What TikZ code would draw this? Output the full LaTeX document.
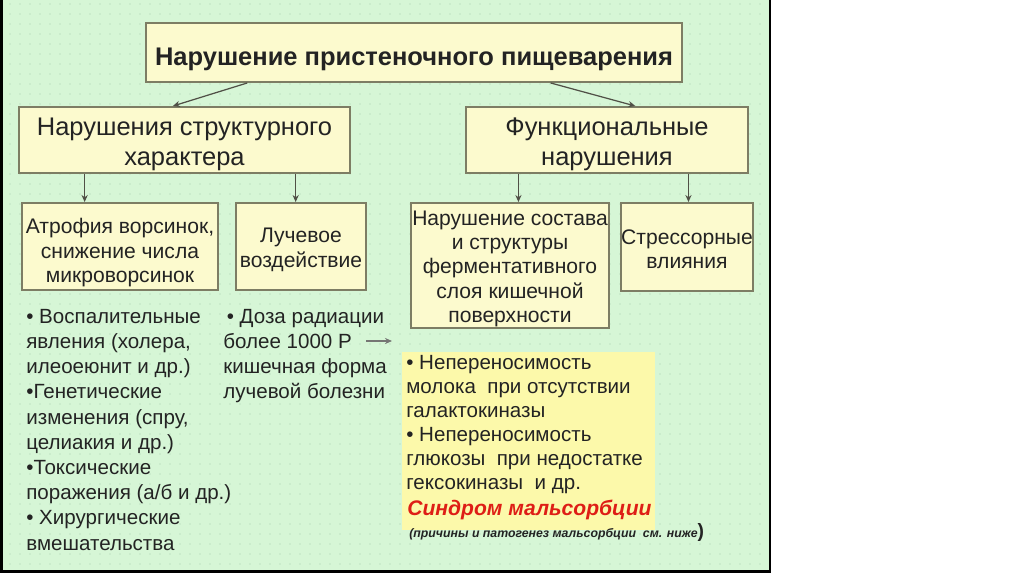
\documentclass[tikz,border=0pt]{standalone}
\usepackage{fontspec}
\setmainfont{Liberation Sans}
\usetikzlibrary{arrows.meta,calc}
\definecolor{panel}{RGB}{214,246,214}
\definecolor{dotc}{RGB}{190,226,194}
\definecolor{boxfill}{RGB}{252,250,206}
\definecolor{boxline}{RGB}{125,125,100}
\definecolor{hilite}{RGB}{252,249,170}
\definecolor{ink}{RGB}{35,35,35}
\definecolor{redtxt}{RGB}{222,30,22}
\definecolor{arrowc}{RGB}{80,80,70}
\newcommand{\toppad}[1]{\rule{0pt}{#1}}
\begin{document}
\begin{tikzpicture}[x=0.02cm,y=-0.02cm,
  box/.style={draw=boxline, line width=1.1pt, fill=boxfill, inner sep=0pt, align=center, text=ink},
  conn/.style={draw=arrowc, line width=0.7pt, -{Stealth[length=4pt,width=3.5pt]}},
  titlefont/.style={font=\fontsize{14.5}{17}\selectfont\bfseries},
  midfont/.style={font=\fontsize{14.5}{17.1}\selectfont},
  lowfont/.style={font=\fontsize{12}{13.9}\selectfont},
  listtext/.style={align=left, inner sep=0pt, text=ink, font=\fontsize{11.7}{14.34}\selectfont},
  yellowtext/.style={align=left, inner sep=0pt, text=ink, font=\fontsize{11.7}{13.66}\selectfont}]
\useasboundingbox (0,0) rectangle (1024,574);
\fill[white] (0,0) rectangle (1024,574);
% panel
\fill[panel] (3,0) rectangle (770,570);
\foreach \i in {0,...,75} {
  \foreach \j in {0,...,56} {
    \fill[dotc] (10+10*\i,4+10*\j) circle (0.55pt);
  }
}
\draw[black, line width=1.5pt] (1.3,0) -- (1.3,571.5) -- (770,571.5) -- (770,0);
% boxes
\node[box, titlefont, minimum width=10.72cm, minimum height=1.18cm] (top) at (414,52.5) {\toppad{17.4pt}Нарушение пристеночного пищеварения};
\node[box, midfont, minimum width=6.62cm, minimum height=1.32cm] (lm) at (184.5,140) {\toppad{15.2pt}Нарушения структурного\\характера};
\node[box, midfont, minimum width=5.64cm, minimum height=1.32cm] (rm) at (607,140) {\toppad{15.2pt}Функциональные\\нарушения};
\node[box, lowfont, minimum width=3.92cm, minimum height=1.74cm] (l3a) at (120,246.5) {\toppad{15.6pt}Атрофия ворсинок,\\снижение числа\\микроворсинок};
\node[box, lowfont, minimum width=2.6cm, minimum height=1.74cm] (l3b) at (301,246.5) {\toppad{12pt}Лучевое\\воздействие};
\node[box, lowfont, minimum width=3.96cm, minimum height=2.5cm] (l3c) at (510,265.5) {\toppad{12pt}Нарушение состава\\и структуры\\ферментативного\\слоя кишечной\\поверхности};
\node[box, lowfont, minimum width=2.64cm, minimum height=1.76cm] (l3d) at (687,247) {\toppad{11pt}Стрессорные\\влияния};
% connectors
\draw[conn] ($(top.south west)!0.19!(top.south east)$) -- ($(lm.north west)!0.465!(lm.north east)$);
\draw[conn] ($(top.south west)!0.754!(top.south east)$) -- ($(rm.north west)!0.6!(rm.north east)$);
\draw[conn] ($(lm.south west)!0.2!(lm.south east)$) coordinate (a1) -- (a1 |- l3a.north);
\draw[conn] ($(lm.south west)!0.834!(lm.south east)$) coordinate (a2) -- (a2 |- l3b.north);
\draw[conn] ($(rm.south west)!0.188!(rm.south east)$) coordinate (a3) -- (a3 |- l3c.north);
\draw[conn] ($(rm.south west)!0.787!(rm.south east)$) coordinate (a4) -- (a4 |- l3d.north);
% highlight
\node[fill=hilite, inner sep=0pt, minimum width=5.06cm, minimum height=3.56cm] (hl) at (528.5,441) {};
% lists
\node[listtext, anchor=base west] (lst1) at (26,550) {• Воспалительные\\явления (холера,\\илеоеюнит и др.)\\•Генетические\\изменения (спру,\\целиакия и др.)\\•Токсические\\поражения (а/б и др.)\\• Хирургические\\вмешательства};
\node[listtext, anchor=base west] (lst2) at (223,398.6) {\,• Доза радиации\\более 1000 Р\\кишечная форма\\лучевой болезни};
\coordinate (r1) at (366,341);
\coordinate (r2) at (392,341);
\draw[conn, draw=gray!80!arrowc, line width=0.6pt] (r1) -- (r2);
\node[yellowtext, anchor=base west] (lst3) at (406,489) {• Непереносимость\\молока\ \ при отсутствии\\галактокиназы\\• Непереносимость\\глюкозы\ \ при недостатке\\гексокиназы\ \ и др.};
\node[inner sep=0pt, anchor=base west, text=redtxt, font=\fontsize{12}{14}\selectfont\bfseries\itshape] (synd) at (407,515) {Синдром мальсорбции};
\node[inner sep=0pt, anchor=base west, text=ink] (note) at (409,537) {{\fontsize{7}{8}\selectfont\bfseries\itshape (причины и патогенез мальсорбции\ \ см. ниже}{\fontsize{11}{12}\selectfont\bfseries )}};
\end{tikzpicture}
\end{document}
